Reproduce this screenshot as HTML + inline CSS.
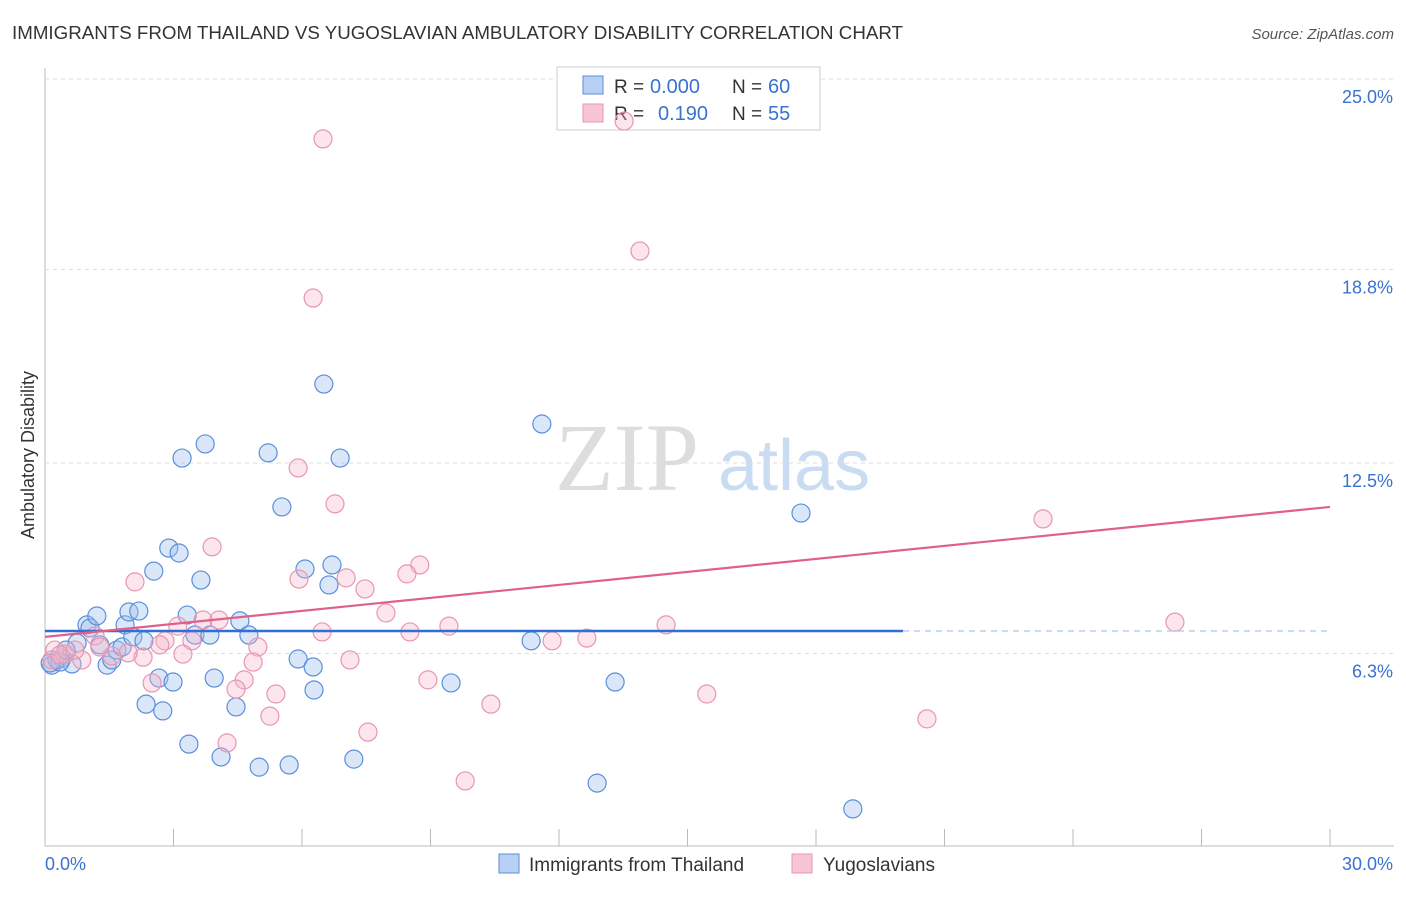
<!DOCTYPE html>
<html><head><meta charset="utf-8"><style>
body{margin:0;background:#fff;font-family:"Liberation Sans",sans-serif;}
</style></head><body>
<svg id="chart" width="1406" height="892" xmlns="http://www.w3.org/2000/svg">
<text x="12" y="39" font-size="18" fill="#333" textLength="891" lengthAdjust="spacingAndGlyphs">IMMIGRANTS FROM THAILAND VS YUGOSLAVIAN AMBULATORY DISABILITY CORRELATION CHART</text>
<text x="1394" y="39" font-size="15" fill="#555" font-style="italic" text-anchor="end">Source: ZipAtlas.com</text>
<text x="555" y="490" font-size="96" fill="#ddd" font-family="Liberation Serif">ZIP</text>
<text x="718" y="490" font-size="72" fill="#c9dcf2">atlas</text>
<text x="34" y="455" font-size="18" fill="#333" transform="rotate(-90 34 455)" text-anchor="middle">Ambulatory Disability</text>
<g id="grid"></g>
<g>
<rect x="557" y="67" width="263" height="63" fill="#fff" stroke="#ccc"/>
<rect x="583" y="76" width="20" height="18" fill="#b7d0f3" stroke="#5b8fd9"/>
<rect x="583" y="104" width="20" height="18" fill="#f8c5d5" stroke="#e896b0"/>
<text x="614" y="93" font-size="19" fill="#333">R =</text>
<text x="650" y="93" font-size="20" fill="#3a72d0">0.000</text>
<text x="732" y="93" font-size="19" fill="#333">N =</text>
<text x="768" y="93" font-size="20" fill="#3a72d0">60</text>
<text x="614" y="120" font-size="19" fill="#333">R =</text>
<text x="658" y="120" font-size="20" fill="#3a72d0">0.190</text>
<text x="732" y="120" font-size="19" fill="#333">N =</text>
<text x="768" y="120" font-size="20" fill="#3a72d0">55</text>
</g>
<g id="pts"></g><g id="lines"></g>
<g>
<rect x="499" y="854" width="20" height="19" fill="#b7d0f3" stroke="#5b8fd9"/>
<text x="529" y="871" font-size="19" fill="#333">Immigrants from Thailand</text>
<rect x="792" y="854" width="20" height="19" fill="#f8c5d5" stroke="#e896b0"/>
<text x="823" y="871" font-size="19" fill="#333">Yugoslavians</text>
</g>
</svg>
<script>
const xTickLabels=["0.0%","30.0%"];
const yTicks=[6.3,12.5,18.8,25.0];
const yTickLabels=["6.3%","12.5%","18.8%","25.0%"];
const thaiX=[0.16,0.28,0.40,0.63,0.75,0.98,1.05,1.21,1.28,1.45,1.56,1.68,1.80,1.87,1.96,2.05,2.19,2.31,2.36,2.54,2.66,2.75,2.89,2.99,3.13,3.20,3.32,3.36,3.50,3.64,3.74,3.85,3.95,4.11,4.46,4.55,4.76,5.00,5.21,5.53,5.70,5.91,6.07,6.26,6.28,6.51,6.63,6.70,6.89,7.21,9.48,11.35,11.60,12.89,13.31,17.65,18.86,0.35,0.12,0.49];
const thaiY=[5.92,6.09,6.15,5.96,6.64,7.23,7.13,7.52,6.58,5.92,6.09,6.41,6.51,7.23,7.65,6.84,7.68,6.71,4.65,8.98,5.50,4.43,9.73,5.37,9.57,12.66,7.55,3.35,6.90,8.69,13.12,6.90,5.50,2.93,4.56,7.36,6.90,2.60,12.83,11.07,2.67,6.12,9.05,5.86,5.11,15.07,8.53,9.18,12.66,2.86,5.34,6.71,13.77,2.08,5.37,10.87,1.24,6.02,5.99,6.41];
const yugoX=[6.49,13.52,13.89,6.26,5.91,6.77,23.30,3.90,2.10,8.75,8.45,5.93,7.03,7.47,7.96,26.38,14.50,3.69,4.06,3.10,9.43,6.47,8.52,12.65,11.84,2.80,3.43,2.68,3.22,4.97,7.12,4.86,2.29,1.94,0.86,1.56,1.17,0.47,0.23,0.16,4.65,2.50,4.46,5.39,8.94,15.45,10.41,5.25,20.59,7.54,4.25,9.81,0.35,0.70,1.28];
const yugoY=[23.05,23.63,19.40,17.87,12.34,11.17,10.68,9.77,8.63,9.18,8.89,8.72,8.76,8.40,7.62,7.32,7.23,7.39,7.39,7.19,7.19,7.00,7.00,6.80,6.71,6.71,6.71,6.58,6.28,6.51,6.09,6.02,6.18,6.32,6.09,6.22,6.87,6.28,6.41,6.09,5.44,5.34,5.14,4.98,5.44,4.98,4.65,4.26,4.17,3.74,3.39,2.15,6.25,6.41,6.51];
const thaiTrend=[7.03,7.03]; const thaiTrendEnd=20.03;
const yugoTrend=[6.84,11.07];
const NS="http://www.w3.org/2000/svg";
const X0=45,X1=1330,Y0=847,PPY=30.72;
function sx(v){return X0+(v/30)*(X1-X0);}
function sy(v){return Y0-v*PPY;}
function mk(tag,attrs,parent){const e=document.createElementNS(NS,tag);for(const k in attrs)e.setAttribute(k,attrs[k]);parent.appendChild(e);return e;}
const grid=document.getElementById('grid');
let ax=mk('line',{x1:45,y1:68,x2:45,y2:846,stroke:'#bbb'},grid);


let bx=mk('line',{x1:45,y1:846,x2:1394,y2:846,stroke:'#bbb'},grid);


for(let i=1;i<=10;i++){const x=X0+i*(X1-X0)/10;const t=mk('line',{x1:x,y1:829,x2:x,y2:846,stroke:'#bbb'},grid);

}
yTicks.forEach((v,i)=>{const y=sy(v);
const g=mk('line',{x1:45,y1:y,x2:1394,y2:y,stroke:'#ddd','stroke-dasharray':'4,4'},grid);


const t=mk('text',{x:1393,y:y+24,'font-size':18,fill:'#3a72d0','text-anchor':'end'},grid);t.textContent=yTickLabels[i];

});
xTickLabels.forEach((l,i)=>{const t=mk('text',{x:i?1393:45,y:870,'font-size':18,fill:'#3a72d0','text-anchor':i?'end':'start'},grid);t.textContent=l;

});
const pts=document.getElementById('pts');
thaiX.forEach((v,i)=>{const c=mk('circle',{cx:sx(v),cy:sy(thaiY[i]),r:9,fill:'rgba(160,195,240,0.4)',stroke:'#5b8fd9','stroke-width':1.2},pts);

});
yugoX.forEach((v,i)=>{const c=mk('circle',{cx:sx(v),cy:sy(yugoY[i]),r:9,fill:'rgba(245,180,200,0.35)',stroke:'#e896b0','stroke-width':1.2},pts);

});
const lines=document.getElementById('lines');
let l1=mk('line',{x1:sx(0),y1:sy(thaiTrend[0]),x2:sx(thaiTrendEnd),y2:sy(thaiTrend[1]),stroke:'#2f6fd6','stroke-width':2.5},lines);


let l1d=mk('line',{x1:sx(thaiTrendEnd),y1:sy(thaiTrend[1]),x2:sx(30),y2:sy(thaiTrend[1]),stroke:'#b8d0ee','stroke-width':1.5,'stroke-dasharray':'6,5'},lines);


let l2=mk('line',{x1:sx(0),y1:sy(yugoTrend[0]),x2:sx(30),y2:sy(yugoTrend[1]),stroke:'#e0608c','stroke-width':2.2},lines);


</script>
</body></html>
